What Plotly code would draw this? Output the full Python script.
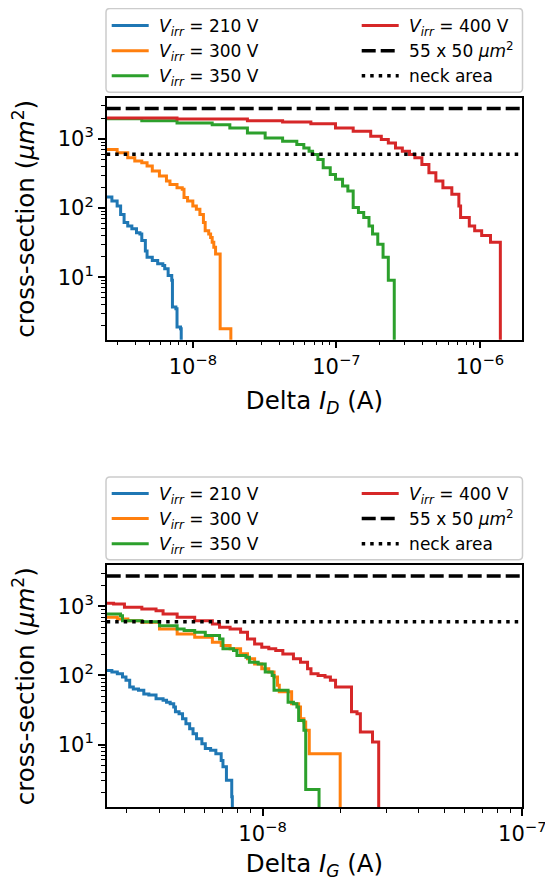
import plotly.graph_objects as go

# The page body has an 8px margin, so the figure is sized to fill the rest of the 553x881 window
OFF = 8
FW, FH = 553 - OFF, 881 - OFF

# ---------------- data: top panel (Delta I_D) ----------------
ID_210_x = [2.5e-9, 2.73e-9, 2.97e-9, 3.14e-9, 3.32e-9, 3.52e-9, 3.76e-9, 4.05e-9, 4.28e-9, 4.41e-9,
            4.67e-9, 4.80e-9, 5.22e-9, 5.69e-9, 6.18e-9, 6.37e-9, 6.73e-9, 7.13e-9, 7.21e-9, 7.62e-9,
            7.76e-9, 8.21e-9, 8.30e-9]
ID_210_y = [145, 127, 107, 81, 62, 55, 50, 44, 42, 34, 24, 19.4, 17.4, 15.6, 14.7, 13.2, 10.6, 9.0,
            3.7, 3.5, 1.9, 1.8, 1.0]

ID_300_x = [2.5e-9, 2.97e-9, 3.52e-9, 3.94e-9, 4.41e-9, 4.80e-9, 5.22e-9, 5.85e-9, 6.55e-9, 6.93e-9,
            7.76e-9, 8.44e-9, 8.68e-9, 9.19e-9, 1.0e-8, 1.058e-8, 1.12e-8, 1.185e-8, 1.219e-8, 1.29e-8,
            1.33e-8, 1.364e-8, 1.40e-8, 1.44e-8, 1.55e-8, 1.84e-8]
ID_300_y = [703, 629, 533, 478, 452, 405, 343, 290, 246, 220, 197, 187, 142, 127, 107, 96, 81, 62, 47,
            42, 37.6, 31.9, 27, 21.7, 1.8, 1.0]

ID_350_x = [2.5e-9, 4.41e-9, 7.76e-9, 1.364e-8, 1.81e-8, 2.40e-8, 3.19e-8, 4.22e-8, 5.30e-8, 5.93e-8,
            6.45e-8, 6.83e-8, 7.43e-8, 8.09e-8, 9.06e-8, 9.86e-8, 1.104e-7, 1.202e-7, 1.309e-7, 1.424e-7,
            1.55e-7, 1.687e-7, 1.786e-7, 1.942e-7, 2.114e-7, 2.30e-7, 2.53e-7]
ID_350_y = [1963, 1837, 1699, 1607, 1440, 1219, 1033, 925, 828, 742, 665, 595, 504, 383, 307, 260, 208,
            177, 102, 86, 73, 55, 42, 30, 19.4, 9.0, 1.0]

ID_400_x = [2.5e-9, 7.76e-9, 2.40e-8, 4.22e-8, 6.64e-8, 9.86e-8, 1.309e-7, 1.734e-7, 2.055e-7, 2.30e-7,
            2.58e-7, 2.88e-7, 3.23e-7, 3.52e-7, 3.94e-7, 4.41e-7, 4.93e-7, 5.52e-7, 6.37e-7, 7.13e-7,
            7.33e-7, 8.43e-7, 9.19e-7, 1.028e-6, 1.185e-6, 1.387e-6]
ID_400_y = [2005, 1940, 1837, 1757, 1663, 1440, 1289, 1092, 978, 876, 742, 665, 595, 533, 428, 325, 246,
            197, 158, 107, 73, 55, 47, 40, 32, 1.0]

# ---------------- data: bottom panel (Delta I_G) ----------------
IG_210_x = [2.5e-9, 2.63e-9, 2.76e-9, 2.89e-9, 2.98e-9, 3.08e-9, 3.18e-9, 3.33e-9, 3.49e-9, 3.65e-9,
            3.89e-9, 4.14e-9, 4.27e-9, 4.41e-9, 4.55e-9, 4.62e-9, 4.77e-9, 4.92e-9, 5.07e-9, 5.24e-9,
            5.40e-9, 5.57e-9, 5.84e-9, 6.02e-9, 6.31e-9, 6.61e-9, 6.93e-9, 7.04e-9, 7.26e-9, 7.61e-9,
            7.65e-9]
IG_210_y = [118, 112, 106, 95, 85, 68, 64, 61, 54, 52, 46, 44, 41, 39, 35, 30, 28, 23.7, 20, 17, 14.4,
            12.2, 10.3, 8.75, 8.3, 7.4, 5.9, 4.8, 3.06, 1.76, 1.0]

IG_300_x = [2.5e-9, 2.76e-9, 3.03e-9, 3.43e-9, 4.01e-9, 4.69e-9, 5.48e-9, 6.41e-9, 6.93e-9, 7.50e-9,
            8.23e-9, 8.75e-9, 9.32e-9, 9.93e-9, 1.057e-8, 1.107e-8, 1.142e-8, 1.16e-8, 1.294e-8, 1.377e-8,
            1.40e-8, 1.443e-8, 1.466e-8, 1.513e-8, 1.99e-8]
IG_300_y = [693, 656, 621, 588, 471, 399, 357, 303, 271, 243, 206, 174, 147, 125, 112, 95, 72, 58, 39,
            35, 23.7, 21.2, 16.1, 7.4, 1.0]

IG_350_x = [2.5e-9, 2.84e-9, 2.89e-9, 3.43e-9, 4.01e-9, 4.69e-9, 4.99e-9, 5.48e-9, 6.02e-9, 6.83e-9,
            7.04e-9, 7.73e-9, 7.97e-9, 8.63e-9, 8.90e-9, 9.62e-9, 1.024e-8, 1.089e-8, 1.107e-8, 1.254e-8,
            1.315e-8, 1.356e-8, 1.377e-8, 1.443e-8, 1.466e-8, 1.65e-8]
IG_350_y = [774, 733, 621, 601, 526, 471, 446, 422, 378, 338, 243, 230, 194, 184, 156, 147, 112, 100,
            61, 41, 39, 35, 22.4, 16.1, 2.24, 1.0]

IG_400_x = [2.5e-9, 2.67e-9, 2.94e-9, 3.43e-9, 3.89e-9, 4.14e-9, 4.69e-9, 5.48e-9, 6.41e-9, 6.83e-9,
            7.50e-9, 8.23e-9, 8.75e-9, 9.32e-9, 9.93e-9, 1.057e-8, 1.124e-8, 1.197e-8, 1.315e-8, 1.40e-8,
            1.49e-8, 1.536e-8, 1.636e-8, 1.74e-8, 1.825e-8, 1.91e-8, 2.20e-8, 2.31e-8, 2.38e-8, 2.65e-8,
            2.80e-8]
IG_400_y = [1105, 1081, 968, 916, 866, 774, 693, 621, 556, 498, 471, 422, 338, 286, 256, 243, 230, 205,
            174, 156, 125, 106, 100, 95, 85, 68, 30, 28, 15.2, 10.9, 1.0]

# reference areas
PIXEL_AREA = 2750      # 55 x 50 um^2
NECK_AREA = 600

SERIES_LABELS = ["<i>V</i><sub><i>irr</i></sub> = 210 V", "<i>V</i><sub><i>irr</i></sub> = 300 V",
                 "<i>V</i><sub><i>irr</i></sub> = 350 V", "<i>V</i><sub><i>irr</i></sub> = 400 V"]
REF_LABELS = ["55 x 50 <i>μm</i><sup>2</sup>", "neck area"]
COLORS = ["#1f77b4", "#ff7f0e", "#2ca02c", "#d62728"]

# axis ranges (log10)
XR_D = [-8.6, -5.705]
XR_G = [-8.6, -7.0]
YR = [0.095, 3.595]

X_TICKS_D = [1e-8, 1e-7, 1e-6]
X_TICKTEXT_D = ["10<sup>−8</sup>", "10<sup>−7</sup>", "10<sup>−6</sup>"]
X_TICKS_G = [1e-8, 1e-7]
X_TICKTEXT_G = ["10<sup>−8</sup>", "10<sup>−7</sup>"]
Y_TICKS = [10, 100, 1000]
Y_TICKTEXT = ["10<sup>1</sup>", "10<sup>2</sup>", "10<sup>3</sup>"]

X_MINOR = [k * 10.0 ** e for e in range(-10, -5) for k in range(2, 10)]
Y_MINOR = [k * 10.0 ** e for e in range(0, 4) for k in range(2, 10)]

FONT = "DejaVu Sans"
GAP = "&nbsp;"   # small gap between legend sample line and its text


def px_x(p):
    """window pixel -> paper x"""
    return (p - OFF) / FW


def px_y(p):
    """window pixel -> paper y"""
    return 1 - (p - OFF) / FH


fig = go.Figure()

panels = [
    dict(xa="x", ya="y", xr=XR_D, leg=("legend", "legend2"),
         data=[(ID_210_x, ID_210_y), (ID_300_x, ID_300_y), (ID_350_x, ID_350_y), (ID_400_x, ID_400_y)]),
    dict(xa="x2", ya="y2", xr=XR_G, leg=("legend3", "legend4"),
         data=[(IG_210_x, IG_210_y), (IG_300_x, IG_300_y), (IG_350_x, IG_350_y), (IG_400_x, IG_400_y)]),
]

for p in panels:
    for i, (xs, ys) in enumerate(p["data"]):
        fig.add_trace(go.Scatter(
            x=xs, y=ys, mode="lines", line=dict(color=COLORS[i], width=3, shape="hv"),
            name=GAP + SERIES_LABELS[i], xaxis=p["xa"], yaxis=p["ya"],
            legend=p["leg"][0] if i < 3 else p["leg"][1]))
    xe = [10 ** p["xr"][0], 10 ** p["xr"][1]]
    fig.add_trace(go.Scatter(
        x=xe, y=[PIXEL_AREA, PIXEL_AREA], mode="lines",
        line=dict(color="black", width=3.5, dash="14px,5px"),
        name=GAP + REF_LABELS[0], xaxis=p["xa"], yaxis=p["ya"], legend=p["leg"][1]))
    fig.add_trace(go.Scatter(
        x=xe, y=[NECK_AREA, NECK_AREA], mode="lines",
        line=dict(color="black", width=3.5, dash="3.5px,5px"),
        name=GAP + REF_LABELS[1], xaxis=p["xa"], yaxis=p["ya"], legend=p["leg"][1]))

X_DOM = [px_x(106.7), px_x(522.3)]
Y_DOM_TOP = [px_y(338.5), px_y(96)]
Y_DOM_BOT = [px_y(807), px_y(564.5)]


def xaxis(rng, tv, tt, title, anchor):
    return dict(type="log", range=rng, domain=X_DOM, anchor=anchor,
                showline=True, linecolor="black", linewidth=1.5, mirror=True,
                ticks="outside", ticklen=7, tickwidth=1.5, tickcolor="black",
                tickmode="array", tickvals=tv, ticktext=tt,
                tickfont=dict(size=21, color="black", family=FONT),
                minor=dict(ticks="outside", ticklen=4, tickwidth=1.1, tickcolor="black",
                           tickmode="array", tickvals=X_MINOR, showgrid=False),
                showgrid=False, zeroline=False, automargin=False,
                title=dict(text=title, font=dict(size=24.5, color="black", family=FONT), standoff=14))


def yaxis(dom, anchor):
    return dict(type="log", range=YR, domain=dom, anchor=anchor,
                showline=True, linecolor="black", linewidth=1.5, mirror=True,
                ticks="outside", ticklen=7, tickwidth=1.5, tickcolor="black",
                tickmode="array", tickvals=Y_TICKS, ticktext=Y_TICKTEXT,
                tickfont=dict(size=21, color="black", family=FONT),
                minor=dict(ticks="outside", ticklen=4, tickwidth=1.1, tickcolor="black",
                           tickmode="array", tickvals=Y_MINOR, showgrid=False),
                showgrid=False, zeroline=False, automargin=False,
                title=dict(text="cross-section (<i>μm</i><sup>2</sup>)",
                           font=dict(size=24.5, color="black", family=FONT), standoff=19))


def legend_cfg(xpx, ypx):
    return dict(x=px_x(xpx), y=px_y(ypx), xanchor="left", yanchor="top",
                bgcolor="rgba(0,0,0,0)", borderwidth=0, itemwidth=37,
                font=dict(size=17, color="black", family=FONT), tracegroupgap=0,
                orientation="v")


def frame_path(x0, y0, x1, y1, r=4):
    rx, ry = r / FW, r / FH
    X0, X1 = px_x(x0), px_x(x1)
    Y0, Y1 = px_y(y0), px_y(y1)   # Y0 top, Y1 bottom
    return (f"M{X0 + rx},{Y0} L{X1 - rx},{Y0} Q{X1},{Y0} {X1},{Y0 - ry} "
            f"L{X1},{Y1 + ry} Q{X1},{Y1} {X1 - rx},{Y1} L{X0 + rx},{Y1} "
            f"Q{X0},{Y1} {X0},{Y1 + ry} L{X0},{Y0 - ry} Q{X0},{Y0} {X0 + rx},{Y0} Z")


shapes = [
    dict(type="path", xref="paper", yref="paper", path=frame_path(106, 6.5, 522.5, 90.5),
         line=dict(color="#cccccc", width=1.5), fillcolor="rgba(255,255,255,0.8)", layer="above"),
    dict(type="path", xref="paper", yref="paper", path=frame_path(106, 476, 522.5, 559),
         line=dict(color="#cccccc", width=1.5), fillcolor="rgba(255,255,255,0.8)", layer="above"),
]

fig.update_layout(
    width=FW, height=FH, margin=dict(l=0, r=0, t=0, b=0),
    paper_bgcolor="white", plot_bgcolor="white",
    font=dict(family=FONT, color="black"),
    showlegend=True,
    xaxis=xaxis(XR_D, X_TICKS_D, X_TICKTEXT_D, "Delta <i>I</i><sub><i>D</i></sub> (A)", "y"),
    yaxis=yaxis(Y_DOM_TOP, "x"),
    xaxis2=xaxis(XR_G, X_TICKS_G, X_TICKTEXT_G, "Delta <i>I</i><sub><i>G</i></sub> (A)", "y2"),
    yaxis2=yaxis(Y_DOM_BOT, "x2"),
    legend=legend_cfg(106.7, 5.75),
    legend2=legend_cfg(356.7, 5.75),
    legend3=legend_cfg(106.7, 475),
    legend4=legend_cfg(356.7, 475),
    shapes=shapes,
)

fig.write_html("out.html")
